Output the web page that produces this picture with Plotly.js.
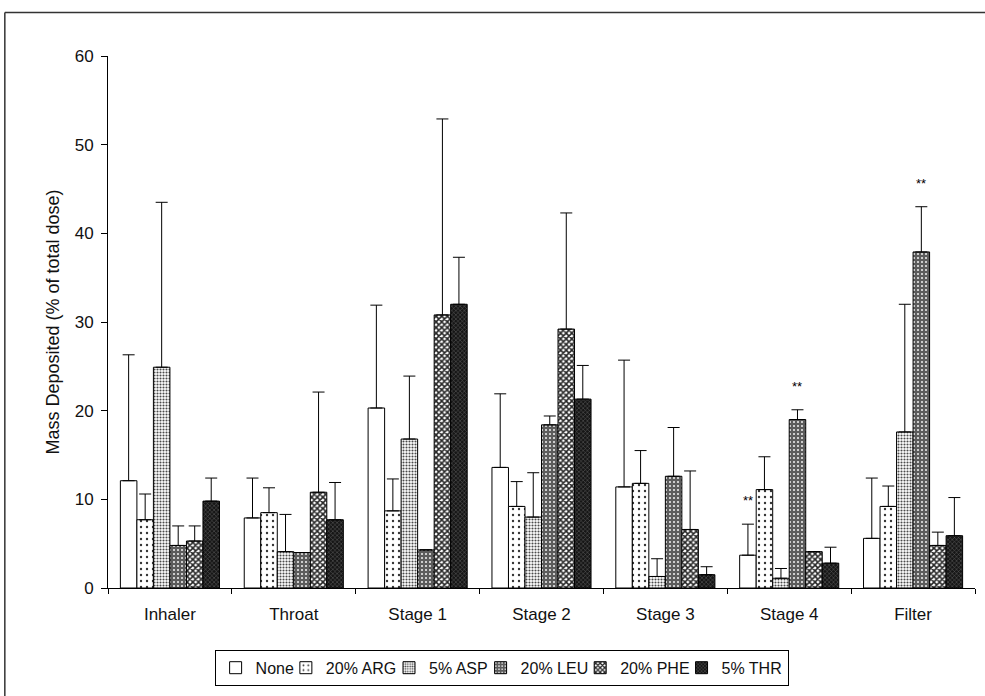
<!DOCTYPE html>
<html>
<head>
<meta charset="utf-8">
<script src="https://cdn.plot.ly/plotly-3.0.1.min.js"></script>
<style>html,body{margin:0;padding:0;background:#fff;}#chart{width:985px;height:696px;}</style>
</head>
<body>
<div id="chart"></div>
<script>
const categories = ["Inhaler", "Throat", "Stage 1", "Stage 2", "Stage 3", "Stage 4", "Filter"];
const seriesNames = ["None", "20% ARG", "5% ASP", "20% LEU", "20% PHE", "5% THR"];

const valNone = [12.1, 7.9, 20.3, 13.6, 11.4, 3.7, 5.6];
const valARG  = [7.7, 8.5, 8.7, 9.2, 11.8, 11.1, 9.2];
const valASP  = [24.9, 4.1, 16.8, 8.0, 1.3, 1.1, 17.6];
const valLEU  = [4.8, 4.0, 4.3, 18.4, 12.6, 19.0, 37.9];
const valPHE  = [5.3, 10.8, 30.8, 29.2, 6.6, 4.1, 4.8];
const valTHR  = [9.8, 7.7, 32.0, 21.3, 1.5, 2.8, 5.9];

// upper end of each error bar
const errTopNone = [26.3, 12.4, 31.9, 21.9, 25.7, 7.2, 12.4];
const errTopARG  = [10.6, 11.3, 12.3, 12.0, 15.5, 14.8, 11.5];
const errTopASP  = [43.5, 8.3, 23.9, 13.0, 3.3, 2.2, 32.0];
const errTopLEU  = [7.0, 4.0, 4.3, 19.4, 18.1, 20.1, 43.0];
const errTopPHE  = [7.0, 22.1, 52.9, 42.3, 13.2, 4.1, 6.3];
const errTopTHR  = [12.4, 11.9, 37.3, 25.1, 2.4, 4.6, 10.2];

// significance markers: [series index, category]
const starMarks = [[0, "Stage 4"], [3, "Stage 4"], [3, "Filter"]];
const starText = "**";

const values = [valNone, valARG, valASP, valLEU, valPHE, valTHR];
const errTops = [errTopNone, errTopARG, errTopASP, errTopLEU, errTopPHE, errTopTHR];

const patterns = [
  {shape: "", bgcolor: "#ffffff", fgcolor: "#ffffff"},
  {shape: ".", bgcolor: "#ffffff", fgcolor: "#333333", size: 6, solidity: 0.12},
  {shape: ".", bgcolor: "#ffffff", fgcolor: "#4a4a4a", size: 3, solidity: 0.4},
  {shape: ".", bgcolor: "#5c5c5c", fgcolor: "#f2f2f2", size: 4, solidity: 0.2},
  {shape: "x", bgcolor: "#ffffff", fgcolor: "#262626", size: 4, solidity: 0.62},
  {shape: "x", bgcolor: "#161616", fgcolor: "#626262", size: 3, solidity: 0.3}
];

const FONT = "Liberation Sans, Arial, sans-serif";
const LEGEND_FONT_SIZE = 16;

// measure legend text so the entries can sit tightly together
const ctx = document.createElement("canvas").getContext("2d");
ctx.font = LEGEND_FONT_SIZE + "px 'Liberation Sans', Arial, sans-serif";
const overlap = 13;

const traces = seriesNames.map((name, i) => {
  const tw = ctx.measureText(name).width;
  return {
    type: "bar",
    name: name,
    x: categories,
    y: values[i],
    legendwidth: i < seriesNames.length - 1 ? Math.max(1, tw - overlap) : tw,
    marker: {
      color: patterns[i].bgcolor,
      line: {color: "#000", width: 1},
      pattern: patterns[i].shape ? {
        shape: patterns[i].shape, bgcolor: patterns[i].bgcolor, fgcolor: patterns[i].fgcolor,
        size: patterns[i].size, solidity: patterns[i].solidity, fillmode: "replace"
      } : undefined
    },
    error_y: {
      type: "data", symmetric: false,
      array: errTops[i].map((t, k) => Math.max(0, t - values[i][k])),
      arrayminus: values[i].map(() => 0),
      color: "#000", thickness: 1, width: 6
    }
  };
});

const bargap = 0.2;
const nS = seriesNames.length;
const bw = (1 - bargap) / nS;
const annotations = starMarks.map(([si, cat]) => {
  const ci = categories.indexOf(cat);
  return {
    x: ci - (1 - bargap) / 2 + (si + 0.5) * bw,
    y: errTops[si][ci],
    xref: "x", yref: "y",
    text: starText, showarrow: false,
    yanchor: "bottom", yshift: 14,
    font: {size: 13, color: "#000", family: FONT}
  };
});

const layout = {
  width: 985, height: 696,
  margin: {l: 108, r: 10, t: 56, b: 108},
  paper_bgcolor: "#fff", plot_bgcolor: "#fff",
  font: {family: FONT, size: 17, color: "#111"},
  barmode: "group", bargap: bargap, bargroupgap: 0,
  showlegend: true,
  legend: {
    orientation: "h", x: 0.454, xanchor: "center", y: -0.15, yanchor: "middle",
    bordercolor: "#000", borderwidth: 1, font: {size: LEGEND_FONT_SIZE}, itemwidth: 30,
    traceorder: "normal", tracegroupgap: 0
  },
  xaxis: {
    type: "category", showline: true, linecolor: "#000", linewidth: 1,
    ticks: "outside", ticklen: 5, tickcolor: "#000", tickson: "boundaries",
    showgrid: false, zeroline: false, ticklabelstandoff: 11, tickfont: {size: 17}
  },
  yaxis: {
    range: [0, 60], dtick: 10, showline: true, linecolor: "#000", linewidth: 1,
    ticks: "outside", ticklen: 6, tickcolor: "#000", showgrid: false, zeroline: false,
    ticklabelstandoff: 4, tickfont: {size: 17},
    title: {text: "Mass Deposited (% of total dose)", font: {size: 18}, standoff: 10}
  },
  annotations: annotations,
  shapes: [
    {type: "line", xref: "paper", yref: "paper", x0: -0.119, x1: 1.02, y0: 1.082, y1: 1.082, line: {color: "#333", width: 1.5}},
    {type: "line", xref: "paper", yref: "paper", x0: -0.119, x1: -0.119, y0: 1.082, y1: -0.22, line: {color: "#333", width: 1.5}}
  ]
};

Plotly.newPlot("chart", traces, layout, {displayModeBar: false, staticPlot: true});
</script>
</body>
</html>
